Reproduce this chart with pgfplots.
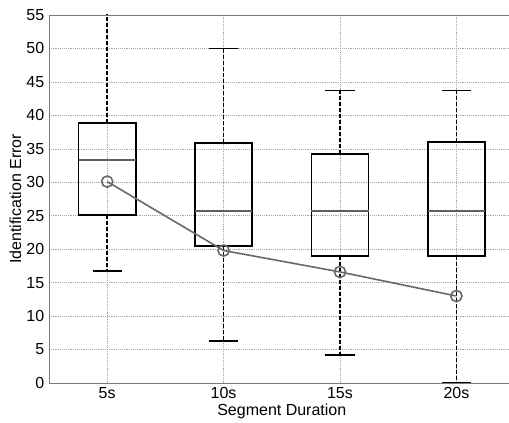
\documentclass[border=0pt]{standalone}
\usepackage{fontspec}
\setmainfont{Liberation Sans}
\usepackage{pgfplots}
\pgfplotsset{compat=1.18}
\usepgfplotslibrary{statistics}
\definecolor{axgray}{HTML}{7A7A7A}
\definecolor{medgray}{HTML}{5E5E5E}
\definecolor{meangray}{HTML}{686868}

\begin{document}
\begin{tikzpicture}
\begin{axis}[
    scale only axis,
    width=349.2pt, height=276pt,
    xmin=0.5, xmax=4.5,
    ymin=0, ymax=55,
    xtick={1,2,3,4},
    xticklabels={5s,10s,15s,20s},
    ytick={0,5,...,55},
    xmajorgrids, ymajorgrids,
    grid style={densely dotted, gray!70},
    axis line style={axgray},
    tick style={draw=none},
    tick label style={font=\fontsize{12}{13}\selectfont},
    label style={font=\fontsize{12}{13}\selectfont},
    /pgf/number format/assume math mode=true,
    xlabel={Segment Duration},
    ylabel={Identification Error},
    xlabel style={at={(axis description cs:0.5,0)}, anchor=north, yshift=-12.5pt},
    ylabel style={yshift=-3pt},
    boxplot/draw direction=y,
    boxplot/box extend=0.49,
    boxplot/whisker extend=0.25,
    boxplot/every box/.style={draw=black, line width=1.2pt},
    boxplot/every median/.style={draw=medgray, line width=1.2pt},
    boxplot/draw/lower whisker/.code={%
        \draw[black, line width=1.2pt, dash pattern=on 3pt off 1.5pt]
            (boxplot cs:\pgfplotsboxplotvalue{lower quartile}) -- (boxplot cs:\pgfplotsboxplotvalue{lower whisker});
        \draw[black, line width=1.2pt]
            (boxplot whisker cs:\pgfplotsboxplotvalue{lower whisker},0) -- (boxplot whisker cs:\pgfplotsboxplotvalue{lower whisker},1);
    },
    boxplot/draw/upper whisker/.code={%
        \draw[black, line width=1.2pt, dash pattern=on 3pt off 1.5pt]
            (boxplot cs:\pgfplotsboxplotvalue{upper quartile}) -- (boxplot cs:\pgfplotsboxplotvalue{upper whisker});
        \draw[black, line width=1.2pt]
            (boxplot whisker cs:\pgfplotsboxplotvalue{upper whisker},0) -- (boxplot whisker cs:\pgfplotsboxplotvalue{upper whisker},1);
    },
]

% 5s
\addplot+[black, mark=none, boxplot prepared={draw position=1,
    lower whisker=16.7, lower quartile=25.1, median=33.3,
    upper quartile=38.9, upper whisker=57}] coordinates {};
% 10s
\addplot+[black, mark=none, boxplot prepared={draw position=2,
    lower whisker=6.3, lower quartile=20.5, median=25.7,
    upper quartile=35.9, upper whisker=50}] coordinates {};
% 15s
\addplot+[black, mark=none, boxplot prepared={draw position=3,
    lower whisker=4.2, lower quartile=19.0, median=25.7,
    upper quartile=34.2, upper whisker=43.7}] coordinates {};
% 20s
\addplot+[black, mark=none, boxplot prepared={draw position=4,
    lower whisker=0, lower quartile=19.0, median=25.7,
    upper quartile=36.0, upper whisker=43.7}] coordinates {};

% mean curve
\addplot[meangray, line width=1.2pt, mark=o, mark size=4.2pt,
    mark options={solid, line width=1.2pt}] coordinates {
    (1, 30.1) (2, 19.8) (3, 16.6) (4, 13.0)
};
\end{axis}
\pgfresetboundingbox
\path ([xshift=-36.75pt,yshift=-30pt]current axis.south west)
    rectangle ([xshift=345pt,yshift=11.25pt]current axis.north west);
\end{tikzpicture}
\end{document}
